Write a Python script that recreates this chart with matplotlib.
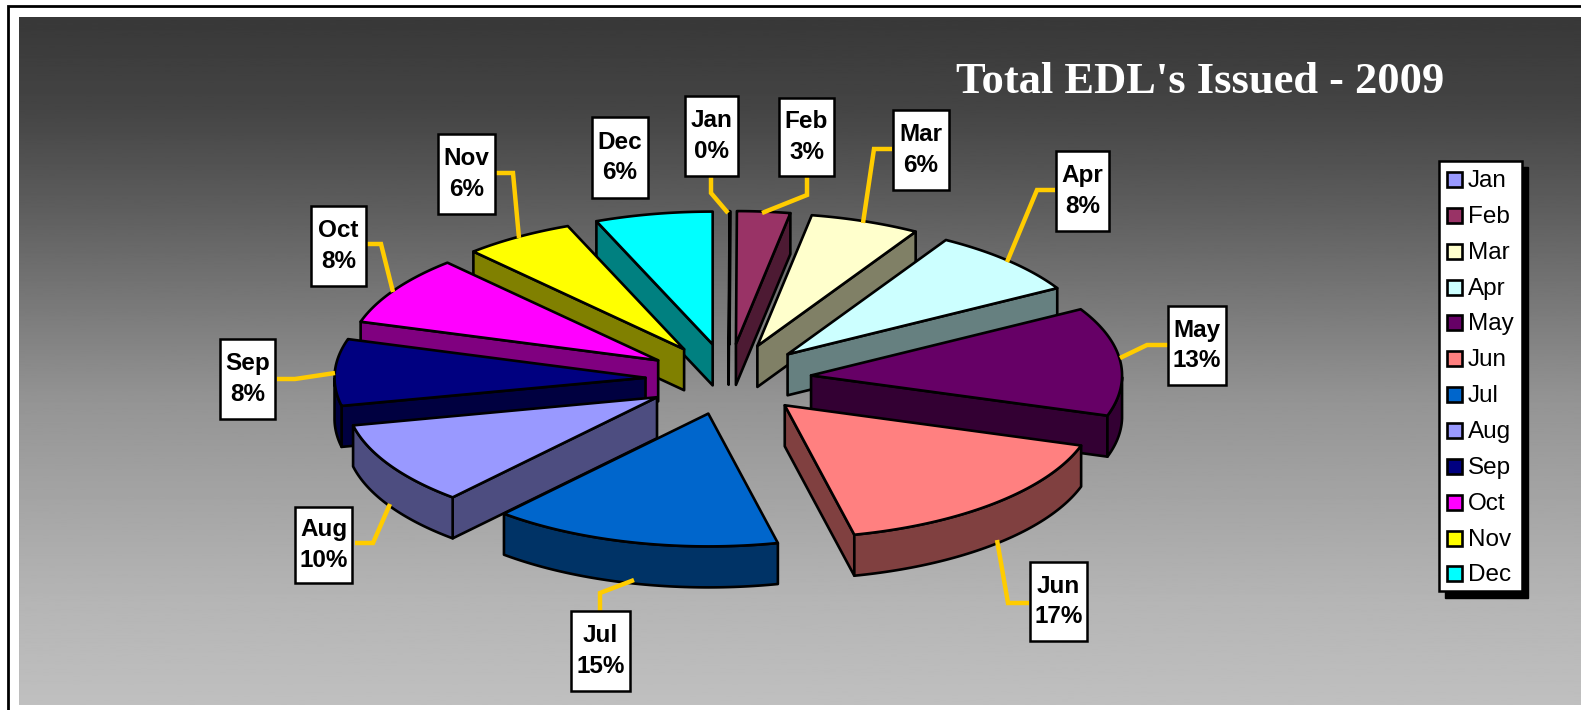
import numpy as np
import matplotlib
matplotlib.use('Agg')
import matplotlib.pyplot as plt
from matplotlib.patches import Polygon, Rectangle

months = ['Jan', 'Feb', 'Mar', 'Apr', 'May', 'Jun', 'Jul', 'Aug', 'Sep', 'Oct', 'Nov', 'Dec']
# share of the year
shares = [0.05, 2.75, 5.7, 8.2, 13.2, 16.51, 15.0, 10.19, 8.1, 8.45, 5.75, 6.1]
top_colors = ['#9999FF', '#993366', '#FFFFCC', '#CCFFFF', '#660066', '#FF8080',
              '#0066CC', '#9999FF', '#000080', '#FF00FF', '#FFFF00', '#00FFFF']
title = "Total EDL's Issued - 2009"

# label boxes (left, top, right, bottom) in pixels
boxes = [(685, 96, 738, 176), (779, 98, 834, 176), (893, 110, 949, 190), (1056, 151, 1109, 231),
         (1168, 306, 1226, 385), (1030, 562, 1087, 641), (571, 611, 630, 691), (295, 507, 352, 583),
         (220, 339, 275, 419), (311, 206, 366, 286), (438, 134, 495, 214), (592, 117, 648, 198)]
leaders = [[(711, 177), (711, 193), (728, 213)],
           [(807, 177), (807, 195), (762, 213)],
           [(892, 149), (874, 149), (863, 223)],
           [(1055, 190), (1037, 190), (1007, 262)],
           [(1168, 345), (1147, 345), (1120, 358)],
           [(1029, 603), (1008, 603), (997, 540)],
           [(600, 611), (600, 593), (634, 580)],
           [(355, 543), (373, 543), (390, 504)],
           [(277, 379), (295, 379), (335, 373)],
           [(365, 244), (381, 244), (393, 292)],
           [(495, 173), (513, 173), (519, 238)]]

cx, cy = 728.5, 379.2
rx, ry = 311, 132.8
explode = 0.267
depth = 41
lw = 1.9

W, H = 1581, 710
fig = plt.figure(figsize=(W / 100, H / 100), dpi=100, facecolor='white')
ax = fig.add_axes([0, 0, 1, 1])


def darker(c):
    r, g, b = matplotlib.colors.to_rgb(c)
    return (r / 2, g / 2, b / 2)


def ell(theta):
    return np.column_stack((rx * np.sin(theta), -ry * np.cos(theta)))


# outer frame and grey background
ax.add_patch(Rectangle((8, 6), W + 20, H + 20, fc='white', ec='black', lw=2, zorder=0))
rows = np.linspace(17, 705, 512)
grad = np.interp(rows, [17, 110, 210, 400, 600, 705], [0.22, 0.27, 0.37, 0.58, 0.71, 0.75]).reshape(-1, 1)
ax.imshow(grad, cmap='gray', vmin=0, vmax=1, extent=(19, W, 705, 17), aspect='auto', zorder=1)
ax.set_xlim(0, W)
ax.set_ylim(H, 0)
ax.axis('off')

edges = np.radians(np.concatenate(([0], np.cumsum(shares))) * 3.6)
mids = (edges[:-1] + edges[1:]) / 2

# back slices first
for rank, i in enumerate(np.argsort(-np.cos(mids))):
    start, end = edges[i], edges[i + 1]
    tip = np.array([cx, cy]) + explode * ell(np.array([mids[i]]))[0]
    angles = np.linspace(start, end, 60)
    arc = tip + ell(angles)
    drop = np.array([0, depth])
    side = darker(top_colors[i])
    z = 3 + 0.01 * rank

    if np.sin(end) > 0:
        ax.add_patch(Polygon([tip, arc[-1], arc[-1] + drop, tip + drop], fc=side, ec='black',
                             lw=lw, joinstyle='round', zorder=z))
    if np.sin(start) < 0:
        ax.add_patch(Polygon([tip, arc[0], arc[0] + drop, tip + drop], fc=side, ec='black',
                             lw=lw, joinstyle='round', zorder=z))
    low = np.cos(angles) < 0
    if low.any():
        rim = arc[low]
        ax.add_patch(Polygon(np.vstack((rim, rim[::-1] + drop)), fc=side, ec='black',
                             lw=lw, joinstyle='round', zorder=z))
    ax.add_patch(Polygon(np.vstack((tip, arc)), fc=top_colors[i], ec='black',
                         lw=lw, joinstyle='round', zorder=z))

# leader lines
for pts in leaders:
    p = np.array(pts)
    ax.plot(p[:, 0], p[:, 1], color='#FFCC00', lw=3.2, solid_joinstyle='miter',
            solid_capstyle='butt', zorder=5)

# labels
for name, val, b in zip(months, shares, boxes):
    ax.add_patch(Rectangle((b[0], b[1]), b[2] - b[0], b[3] - b[1], fc='white', ec='black',
                           lw=1.8, zorder=6))
    ax.text((b[0] + b[2]) / 2, (b[1] + b[3]) / 2, '%s\n%d%%' % (name, round(val)), ha='center',
            va='center', family='Liberation Sans', weight='bold', fontsize=17.5, linespacing=1.42,
            color='black', zorder=7)

# legend
ax.add_patch(Rectangle((1445, 167), 83, 431, fc='black', ec='black', lw=1, zorder=6))
ax.add_patch(Rectangle((1439, 161), 83, 430, fc='white', ec='black', lw=1.8, zorder=6))
for i, name in enumerate(months):
    y = 179.5 + i * 35.85
    ax.add_patch(Rectangle((1447, y - 7.5), 15, 15, fc=top_colors[i], ec='black', lw=1.9, zorder=7))
    ax.text(1468, y + 1.5, name, ha='left', va='center', family='Liberation Sans', fontsize=17.5,
            color='black', zorder=7)

ax.text(956, 82, title, ha='left', va='center', family='Liberation Serif', weight='bold',
        fontsize=32, color='white', zorder=7)

plt.savefig('out.png', dpi=100)
